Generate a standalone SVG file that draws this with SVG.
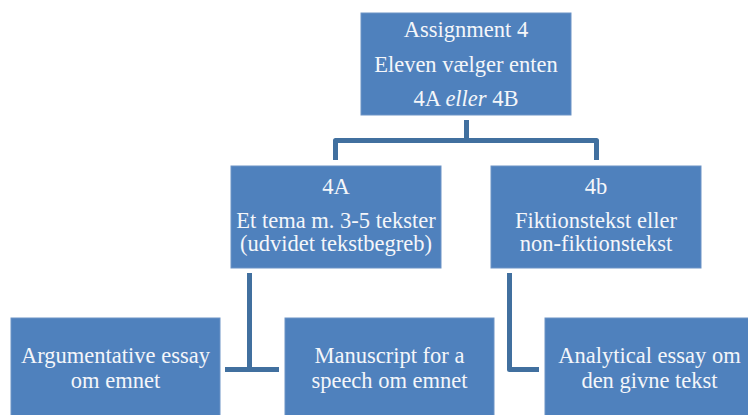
<svg xmlns="http://www.w3.org/2000/svg" width="748" height="415" viewBox="0 0 748 415">
<style>
.box{fill:#4F81BD;stroke:#6C93C6;stroke-width:1}
.t{font-family:"Liberation Serif","Times New Roman",serif;font-size:22.5px;fill:#F4F6FA;text-anchor:middle}
.c{fill:none;stroke:#41709F;stroke-width:5;stroke-linejoin:round}
</style>
<rect width="748" height="415" fill="#FFFFFF"/>
<g id="connectors">
<path class="c" d="M466.5 120 V140.5 M335.5 160 V140.5 H596.5 V160"/>
<path class="c" d="M249.5 273 V369.5 M225 369.5 H279"/>
<path class="c" d="M509.5 273 V369.5 H539"/>
</g>
<g id="assignment4">
<rect class="box" x="361" y="13" width="210" height="102"/>
<text class="t" x="466" y="37">Assignment 4</text>
<text class="t" x="466" y="72">Eleven vælger enten</text>
<text class="t" x="466" y="106">4A <tspan font-style="italic">eller</tspan> 4B</text>
</g>
<g id="n4A">
<rect class="box" x="231" y="166" width="210" height="102"/>
<text class="t" x="336" y="194">4A</text>
<text class="t" x="336" y="228" font-size="21.5">Et tema m. 3-5 tekster</text>
<text class="t" x="336" y="251" font-size="21.5">(udvidet tekstbegreb)</text>
</g>
<g id="n4b">
<rect class="box" x="491" y="166" width="210" height="102"/>
<text class="t" x="596" y="194">4b</text>
<text class="t" x="596" y="228">Fiktionstekst eller</text>
<text class="t" x="596" y="251">non-fiktionstekst</text>
</g>
<g id="argumentative">
<rect class="box" x="11" y="318" width="209" height="110"/>
<text class="t" x="115.5" y="363">Argumentative essay</text>
<text class="t" x="115.5" y="388">om emnet</text>
</g>
<g id="manuscript">
<rect class="box" x="285" y="318" width="209" height="110"/>
<text class="t" x="389.5" y="363">Manuscript for a</text>
<text class="t" x="389.5" y="388">speech om emnet</text>
</g>
<g id="analytical">
<rect class="box" x="545" y="318" width="209" height="110"/>
<text class="t" x="649.5" y="363">Analytical essay om</text>
<text class="t" x="649.5" y="388">den givne tekst</text>
</g>
</svg>
